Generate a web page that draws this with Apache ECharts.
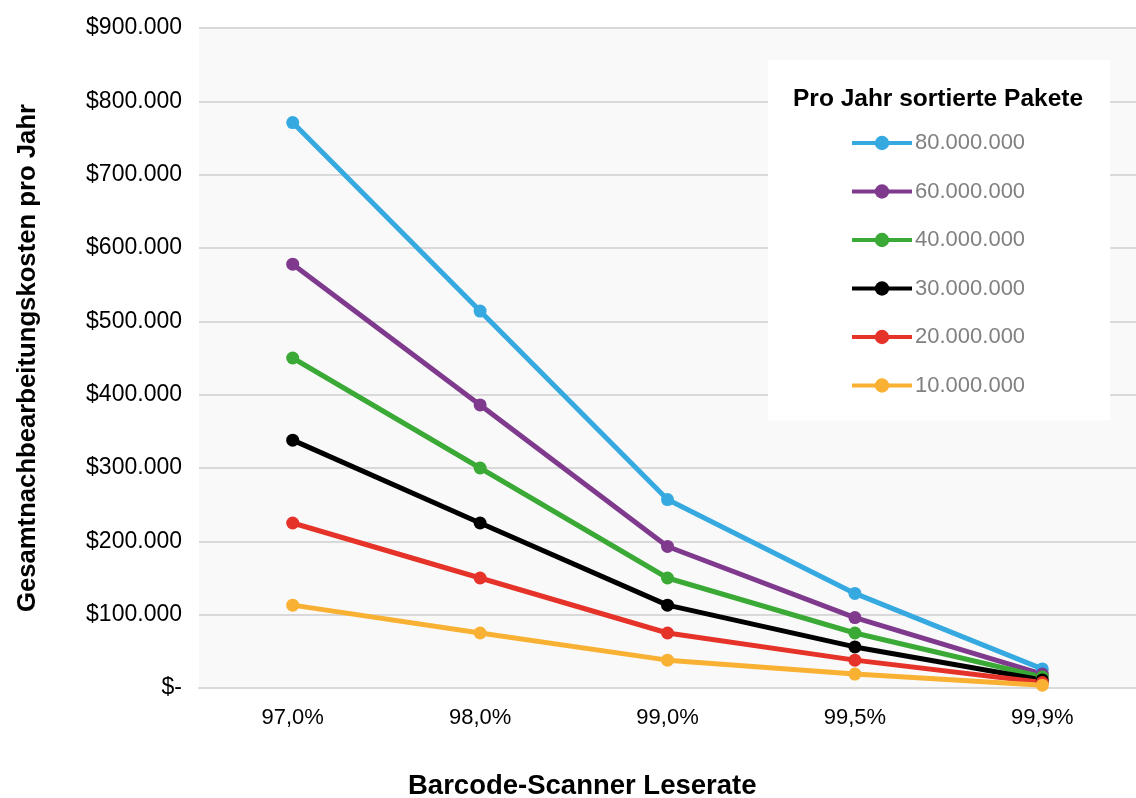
<!DOCTYPE html>
<html>
<head>
<meta charset="utf-8">
<script src="https://cdn.jsdelivr.net/npm/echarts@6/dist/echarts.min.js"></script>
<style>
  html, body { margin: 0; padding: 0; background: #fff; }
  #chart { width: 1136px; height: 798px; }
</style>
</head>
<body>
<div id="chart"></div>
<script>
// Leserate (x-Achse)
var categories = ['97,0%', '98,0%', '99,0%', '99,5%', '99,9%'];

// Kosten pro Jahr je Paketmenge
var pakete80 = [771000, 514000, 257000, 129000, 26000];
var pakete60 = [578000, 386000, 193000, 96000, 19000];
var pakete40 = [450000, 300000, 150000, 75000, 15000];
var pakete30 = [338000, 225000, 113000, 56000, 11000];
var pakete20 = [225000, 150000, 75000, 38000, 7500];
var pakete10 = [113000, 75000, 38000, 19000, 3800];

var seriesNames = ['80.000.000', '60.000.000', '40.000.000', '30.000.000', '20.000.000', '10.000.000'];
var seriesData = [pakete80, pakete60, pakete40, pakete30, pakete20, pakete10];
var colors = ['#35a9e0', '#7f3a8e', '#3aa935', '#000000', '#e5332a', '#f8b133'];

var font = '"Liberation Sans", Arial, sans-serif';

function fmtMoney(v) {
    if (v === 0) return '$-';
    return '$' + String(v).replace(/\B(?=(\d{3})+(?!\d))/g, '.');
}

var chart = echarts.init(document.getElementById('chart'));

var series = seriesNames.map(function (name, i) {
    return {
        name: name,
        type: 'line',
        data: seriesData[i],
        symbol: 'circle',
        symbolSize: 13,
        lineStyle: { width: 5, color: colors[i] },
        itemStyle: { color: colors[i] },
        emphasis: { disabled: true }
    };
});

var options = {
    animation: false,
    color: colors,
    textStyle: { fontFamily: font },
    title: [
        {
            text: 'Pro Jahr sortierte Pakete',
            left: 788, top: 82,
            textStyle: { fontFamily: font, fontSize: 24.5, fontWeight: 'bold', color: '#000' }
        },
        {
            text: 'Barcode-Scanner Leserate',
            left: 403, top: 767,
            textStyle: { fontFamily: font, fontSize: 27.5, fontWeight: 'bold', color: '#000' }
        }
    ],
    legend: {
        orient: 'vertical',
        left: 768, top: 60,
        backgroundColor: '#ffffff',
        padding: [70, 85, 22, 82],
        itemWidth: 60,
        itemHeight: 18,
        itemGap: 22.5,
        lineStyle: { width: 4 },
        textStyle: { fontFamily: font, fontSize: 22, color: '#808080', lineHeight: 26, padding: [0, 0, 0, -2] },
        data: seriesNames
    },
    grid: {
        left: 199, width: 941, top: 28, bottom: 110,
        show: true, backgroundColor: '#f9f9f9', borderWidth: 0,
        containLabel: false
    },
    xAxis: {
        type: 'category',
        data: categories,
        axisLine: { lineStyle: { color: '#d9d9d9', width: 2 } },
        axisTick: { show: false },
        axisLabel: { fontFamily: font, fontSize: 22, color: '#000', margin: 19 }
    },
    yAxis: {
        type: 'value',
        min: 0, max: 900000, interval: 100000,
        name: 'Gesamtnachbearbeitungskosten pro Jahr',
        nameLocation: 'middle',
        nameGap: 158,
        nameTextStyle: { fontFamily: font, fontSize: 25.7, fontWeight: 'bold', color: '#000' },
        axisLine: { show: false },
        axisTick: { show: false },
        splitLine: { lineStyle: { color: '#d9d9d9', width: 2 } },
        axisLabel: { fontFamily: font, fontSize: 23, color: '#000', margin: 17, formatter: fmtMoney }
    },
    series: series
};

chart.setOption(options);
</script>
</body>
</html>
